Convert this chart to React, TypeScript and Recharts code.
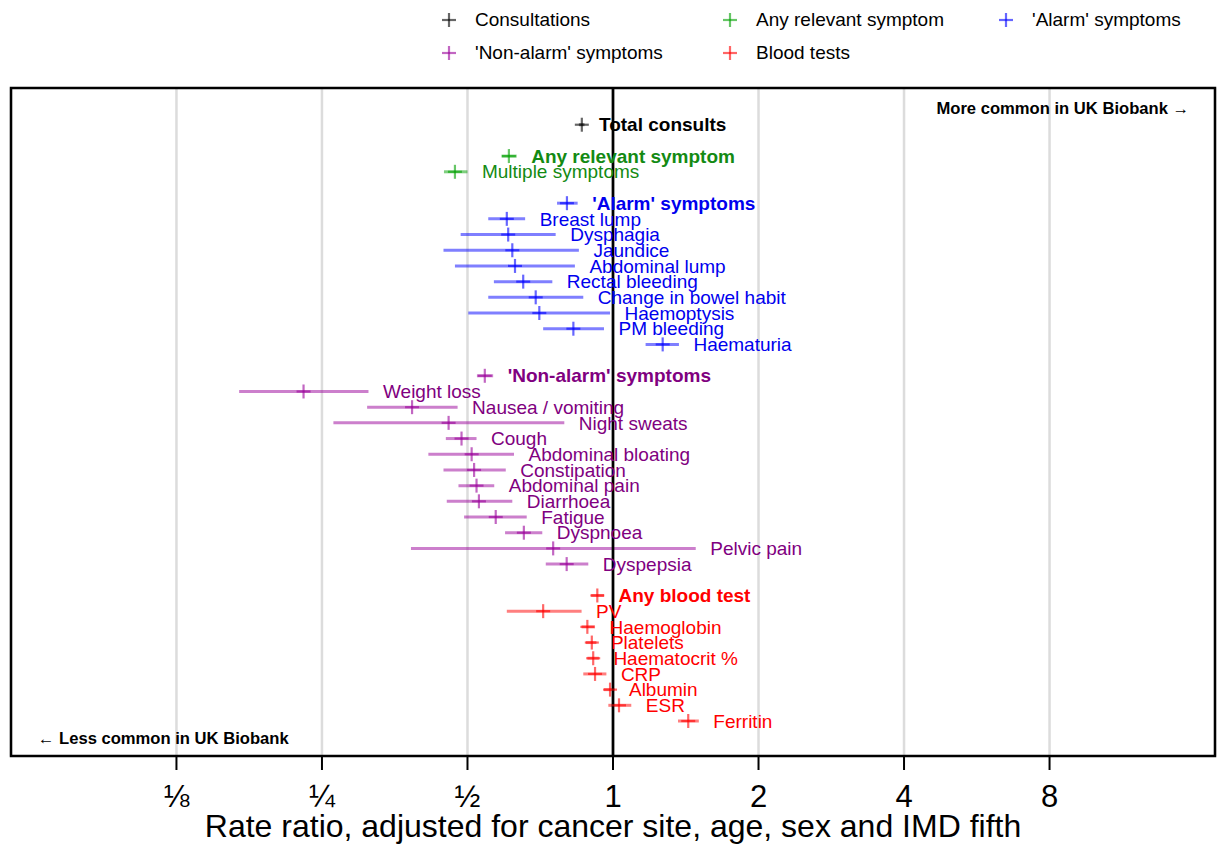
import React from 'react';
import {
  ScatterChart,
  Scatter,
  XAxis,
  YAxis,
  CartesianGrid,
  ReferenceLine,
  ReferenceArea,
} from 'recharts';

// ---------- data ----------
const rowLabels = [
  'Total consults',
  'Any relevant symptom',
  'Multiple symptoms',
  "'Alarm' symptoms",
  'Breast lump',
  'Dysphagia',
  'Jaundice',
  'Abdominal lump',
  'Rectal bleeding',
  'Change in bowel habit',
  'Haemoptysis',
  'PM bleeding',
  'Haematuria',
  "'Non-alarm' symptoms",
  'Weight loss',
  'Nausea / vomiting',
  'Night sweats',
  'Cough',
  'Abdominal bloating',
  'Constipation',
  'Abdominal pain',
  'Diarrhoea',
  'Fatigue',
  'Dyspnoea',
  'Pelvic pain',
  'Dyspepsia',
  'Any blood test',
  'PV',
  'Haemoglobin',
  'Platelets',
  'Haematocrit %',
  'CRP',
  'Albumin',
  'ESR',
  'Ferritin',
];

const rowPositions = [
  0, 2, 3, 5, 6, 7, 8, 9, 10, 11, 12, 13, 14, 16, 17, 18, 19, 20, 21, 22, 23,
  24, 25, 26, 27, 28, 30, 31, 32, 33, 34, 35, 36, 37, 38,
];

const rowGroups = [
  'consult',
  'any', 'any',
  'alarm', 'alarm', 'alarm', 'alarm', 'alarm', 'alarm', 'alarm', 'alarm', 'alarm', 'alarm',
  'nonalarm', 'nonalarm', 'nonalarm', 'nonalarm', 'nonalarm', 'nonalarm', 'nonalarm',
  'nonalarm', 'nonalarm', 'nonalarm', 'nonalarm', 'nonalarm', 'nonalarm',
  'blood', 'blood', 'blood', 'blood', 'blood', 'blood', 'blood', 'blood', 'blood',
];

const headerRows = [
  'Total consults',
  'Any relevant symptom',
  "'Alarm' symptoms",
  "'Non-alarm' symptoms",
  'Any blood test',
];

const estimates = [
  0.862, 0.609, 0.471, 0.803, 0.603, 0.607, 0.619, 0.627, 0.652, 0.692, 0.704,
  0.828, 1.267, 0.543, 0.229, 0.384, 0.457, 0.486, 0.51, 0.516, 0.522, 0.528,
  0.572, 0.654, 0.752, 0.802, 0.928, 0.717, 0.885, 0.904, 0.91, 0.918, 0.986,
  1.029, 1.431,
];

const lowerCI = [
  0.85, 0.588, 0.447, 0.766, 0.552, 0.484, 0.446, 0.471, 0.567, 0.552, 0.502,
  0.717, 1.168, 0.523, 0.1685, 0.31, 0.264, 0.451, 0.415, 0.446, 0.479, 0.453,
  0.492, 0.598, 0.382, 0.726, 0.901, 0.603, 0.861, 0.879, 0.885, 0.868, 0.958,
  0.978, 1.363,
];

const upperCI = [
  0.873, 0.632, 0.5, 0.845, 0.658, 0.761, 0.85, 0.834, 0.749, 0.868, 0.986,
  0.958, 1.369, 0.565, 0.312, 0.477, 0.793, 0.522, 0.624, 0.6, 0.568, 0.619,
  0.663, 0.714, 1.483, 0.889, 0.958, 0.861, 0.918, 0.924, 0.935, 0.969, 1.007,
  1.091, 1.505,
];

const xTicks = [0.125, 0.25, 0.5, 1, 2, 4, 8];
const xTickLabels = ['⅛', '¼', '½', '1', '2', '4', '8'];

const legendGroups = ['consult', 'any', 'alarm', 'nonalarm', 'blood'];
const legendLabels = [
  'Consultations',
  'Any relevant symptom',
  "'Alarm' symptoms",
  "'Non-alarm' symptoms",
  'Blood tests',
];

const annotationTexts = ['More common in UK Biobank →', '← Less common in UK Biobank'];
const annotationX = [15.55, 0.0646];
const annotationY = [-1.08, 39.09];
const annotationAnchor = ['end', 'start'];

// ---------- styling ----------
const X_MIN = Math.pow(2, -4.137);
const X_MAX = Math.pow(2, 4.137);
const Y_MIN = -2.34;
const Y_MAX = 40.23;

const textColors: Record<string, string> = {
  consult: '#000000',
  any: '#138a13',
  alarm: '#0000ee',
  nonalarm: '#800080',
  blood: '#ff0000',
};
const markColors: Record<string, string> = {
  consult: '#000000',
  any: '#00a000',
  alarm: '#0000ff',
  nonalarm: '#990099',
  blood: '#ff0000',
};

const FONT = '"Liberation Sans", Arial, Helvetica, sans-serif';

const rows = rowLabels.map((label, i) => ({
  label,
  y: rowPositions[i],
  est: estimates[i],
  lo: lowerCI[i],
  hi: upperCI[i],
  group: rowGroups[i],
  header: headerRows.includes(label),
}));

const markerData = rows.map((r) => ({ x: r.est, y: r.y, group: r.group }));
const labelData = rows.map((r) => ({
  x: r.hi,
  y: r.y,
  group: r.group,
  label: r.label,
  header: r.header,
}));
const annotationData = annotationTexts.map((t, i) => ({
  x: annotationX[i],
  y: annotationY[i],
  text: t,
  anchor: annotationAnchor[i],
}));

const PlusShape = (props: any) => {
  const { cx, cy, payload } = props;
  if (cx == null || cy == null) return null;
  const c = markColors[payload.group];
  return (
    <g>
      <line x1={cx - 7} x2={cx + 7} y1={cy} y2={cy} stroke={c} strokeOpacity={0.6} strokeWidth={2.2} />
      <line x1={cx} x2={cx} y1={cy - 7} y2={cy + 7} stroke={c} strokeOpacity={0.6} strokeWidth={2.2} />
    </g>
  );
};

const LabelShape = (props: any) => {
  const { cx, cy, payload } = props;
  if (cx == null || cy == null) return null;
  return (
    <text
      x={cx + 14.5}
      y={cy}
      dy="0.35em"
      fill={textColors[payload.group]}
      fontSize={19}
      fontWeight={payload.header ? 'bold' : 'normal'}
      fontFamily={FONT}
    >
      {payload.label}
    </text>
  );
};

const AnnotationShape = (props: any) => {
  const { cx, cy, payload } = props;
  if (cx == null || cy == null) return null;
  return (
    <text
      x={cx}
      y={cy}
      dy="0.35em"
      textAnchor={payload.anchor}
      fill="#000"
      fontSize={16.6}
      fontWeight="bold"
      fontFamily={FONT}
    >
      {payload.text}
    </text>
  );
};

const LegendPlus = ({ color }: { color: string }) => (
  <svg width={16} height={16} style={{ display: 'block' }}>
    <line x1={1} x2={15} y1={8} y2={8} stroke={color} strokeOpacity={0.6} strokeWidth={2.2} />
    <line x1={8} x2={8} y1={1} y2={15} stroke={color} strokeOpacity={0.6} strokeWidth={2.2} />
  </svg>
);

const legendLeft = [441, 722, 998, 441, 722];
const legendTop = [20, 20, 20, 53, 53];

export default function App() {
  return (
    <div
      style={{
        position: 'absolute',
        left: 0,
        top: 0,
        width: 1221,
        height: 844,
        background: '#fff',
        fontFamily: FONT,
      }}
    >
      {legendGroups.map((g, i) => (
        <div
          key={g}
          style={{
            position: 'absolute',
            left: legendLeft[i],
            top: legendTop[i] - 11,
            height: 22,
            display: 'flex',
            alignItems: 'center',
            fontSize: 19,
            color: '#000',
            whiteSpace: 'nowrap',
          }}
        >
          <LegendPlus color={markColors[g]} />
          <span style={{ marginLeft: 18 }}>{legendLabels[i]}</span>
        </div>
      ))}
      <ScatterChart
        width={1221}
        height={844}
        margin={{ top: 88, right: 6, bottom: 0, left: 11 }}
        style={{ position: 'absolute', left: 0, top: 0 }}
      >
        <CartesianGrid vertical horizontal={false} stroke="#dcdcdc" strokeWidth={2.5} />
        <XAxis
          type="number"
          dataKey="x"
          scale="log"
          domain={[X_MIN, X_MAX]}
          allowDataOverflow
          ticks={xTicks}
          interval={0}
          tickFormatter={(v: number) => xTickLabels[xTicks.indexOf(v)] ?? String(v)}
          height={88}
          axisLine={false}
          tickLine={{ stroke: '#000', strokeWidth: 2 }}
          tickSize={14}
          tickMargin={15}
          tick={{ fontSize: 31, fill: '#000', fontFamily: FONT }}
          label={{
            value: 'Rate ratio, adjusted for cancer site, age, sex and IMD fifth',
            position: 'insideBottom',
            offset: 7,
            fontSize: 32,
            fill: '#000',
            fontFamily: FONT,
          }}
        />
        <YAxis type="number" dataKey="y" domain={[Y_MIN, Y_MAX]} reversed hide allowDataOverflow />
        {rows.map((r) => (
          <ReferenceLine
            key={'ci-' + r.label}
            segment={[
              { x: r.lo, y: r.y },
              { x: r.hi, y: r.y },
            ]}
            stroke={markColors[r.group]}
            strokeOpacity={0.5}
            strokeWidth={3}
          />
        ))}
        <Scatter data={markerData} shape={PlusShape} isAnimationActive={false} />
        <Scatter data={labelData} shape={LabelShape} isAnimationActive={false} />
        <Scatter data={annotationData} shape={AnnotationShape} isAnimationActive={false} />
        <ReferenceLine x={1} stroke="#000" strokeWidth={2.7} />
        <ReferenceArea
          x1={X_MIN}
          x2={X_MAX}
          y1={Y_MIN}
          y2={Y_MAX}
          fill="none"
          fillOpacity={0}
          stroke="#000"
          strokeWidth={2.5}
        />
      </ScatterChart>
    </div>
  );
}
